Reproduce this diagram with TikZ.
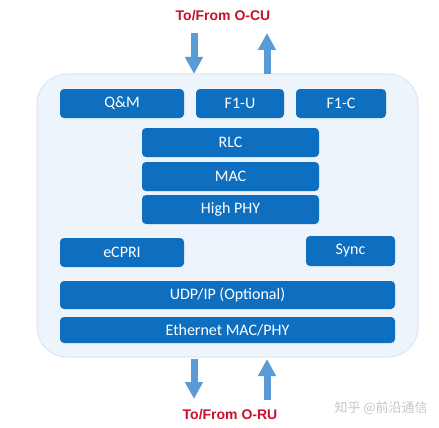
\documentclass[tikz,border=0pt]{standalone}
\usepackage{fontspec}
\setmainfont{Carlito}
\newfontfamily\arialfont{Liberation Sans}
\newfontfamily\cjkfont{Noto Sans CJK SC}
\usetikzlibrary{arrows.meta}
\definecolor{boxblue}{HTML}{0E6FC1}
\definecolor{arrowblue}{HTML}{5B9BD5}
\definecolor{panelfill}{HTML}{EEF4FB}
\definecolor{panelline}{HTML}{DCE6F1}
\definecolor{labelred}{HTML}{C8102E}
\begin{document}
\begin{tikzpicture}[x=1pt,y=-1pt,
  layer/.style={fill=boxblue,rounded corners=4pt},
  layertext/.style={text=white,font=\fontsize{16}{17}\selectfont},
  bigarrow/.style={draw=arrowblue,line width=7pt,-{Triangle[width=17pt,length=17pt]}},
  redlabel/.style={text=labelred,font=\arialfont\bfseries\fontsize{14}{15}\selectfont}]
\useasboundingbox[fill=white] (0,0) rectangle (439,428);
\filldraw[fill=panelfill,draw=panelline,line width=1pt,rounded corners=30pt] (37,74) rectangle (418,357);
\node[redlabel] (ocu) at (223,16) {To/From O-CU};
\node[redlabel] (oru) at (230,415) {To/From O-RU};
% layers
\fill[layer] (60,89) rectangle (184,118); \node[layertext] (qm) at (122,103.5) {Q\&M};
\fill[layer] (196,89) rectangle (284,118); \node[layertext] (f1u) at (240,103.5) {F1-U};
\fill[layer] (296,89) rectangle (386,118); \node[layertext] (f1c) at (341,103.5) {F1-C};
\fill[layer] (142,128) rectangle (319,157); \node[layertext] (rlc) at (230.5,142.5) {RLC};
\fill[layer] (142,162) rectangle (319,191); \node[layertext] (mac) at (230.5,176.5) {MAC};
\fill[layer] (142,195) rectangle (319,224); \node[layertext] (hphy) at (230.5,209.5) {High PHY};
\fill[layer] (60,238) rectangle (184,267); \node[layertext] (ecpri) at (122,252.5) {eCPRI};
\fill[layer] (306,236) rectangle (395,266); \node[layertext] (sync) at (350.5,251) {Sync};
\fill[layer] (60,281) rectangle (395,309); \node[layertext] (udp) at (227.5,295) {UDP/IP (Optional)};
\fill[layer] (60,317) rectangle (395,343); \node[layertext] (eth) at (227.5,330) {Ethernet MAC/PHY};
% arrows
\coordinate (t1s) at (194,33); \coordinate (t1e) at (194,74);
\coordinate (t2s) at (267,74); \coordinate (t2e) at (267,33);
\coordinate (b1s) at (194,359); \coordinate (b1e) at (194,399);
\coordinate (b2s) at (267,400); \coordinate (b2e) at (267,359);
\draw[bigarrow] (t1s) -- (t1e);
\draw[bigarrow] (t2s) -- (t2e);
\draw[bigarrow] (b1s) -- (b1e);
\draw[bigarrow] (b2s) -- (b2e);
\node[text=black!22,font=\cjkfont\fontsize{13}{14}\selectfont,anchor=west] (wm) at (331,408) {知乎 @前沿通信};
\end{tikzpicture}
\end{document}
